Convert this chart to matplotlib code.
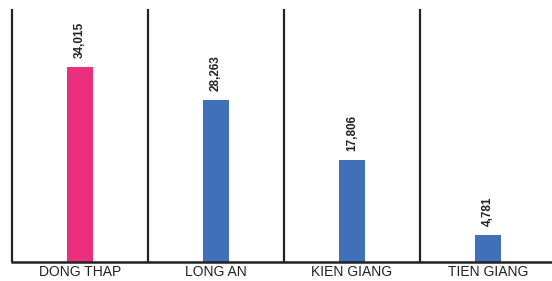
import matplotlib.pyplot as plt

# provinces and their values
provinces = ['DONG THAP', 'LONG AN', 'KIEN GIANG', 'TIEN GIANG']
values = [34015, 28263, 17806, 4781]
colors = ['#ec2f7c', '#4070b8', '#4070b8', '#4070b8']

fig = plt.figure(figsize=(5.52, 2.81), dpi=100)
ax = fig.add_axes([0, 19 / 281, 1, 253 / 281])

x = list(range(len(provinces)))
ax.bar(x, values, width=0.19, color=colors, zorder=2)

for xi, v in zip(x, values):
    ax.annotate(f'{v:,}', (xi, v), xytext=(0, 6.5), textcoords='offset points',
                rotation=90, ha='center', va='bottom', fontsize=8.5,
                fontweight='bold', family='Liberation Sans', color='#222222')

# panel separators and baseline
for xi in x:
    ax.axvline(xi - 0.5, color='#222222', lw=1.6, zorder=3)
ax.plot([-0.5, 3.6], [0, 0], color='#222222', lw=1.8, zorder=3, clip_on=False)

ax.set_xlim(-0.588, 3.47)
ax.set_ylim(0, 44130)
ax.set_xticks(x)
ax.set_xticklabels(provinces, fontsize=10, family='Liberation Sans', color='#222222')
ax.tick_params(axis='x', length=0, pad=2)
ax.set_yticks([])
for s in ax.spines.values():
    s.set_visible(False)

plt.savefig('out.png', dpi=100)
